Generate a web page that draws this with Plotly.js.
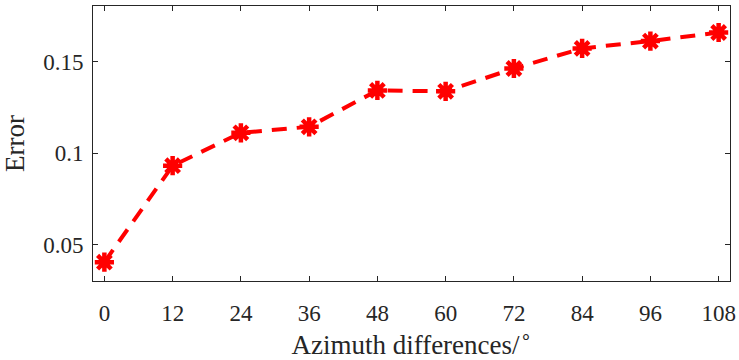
<!DOCTYPE html>
<html>
<head>
<meta charset="utf-8">
<script src="https://cdn.plot.ly/plotly-3.0.1.min.js"></script>
<style>html,body{margin:0;padding:0;background:#fff;}#chart{width:739px;height:360px;}</style>
</head>
<body>
<div id="chart"></div>
<script>
const azimuth = [0, 12, 24, 36, 48, 60, 72, 84, 96, 108];
const errorVals = [0.0403, 0.0931, 0.1111, 0.1144, 0.1343, 0.1338, 0.1463, 0.1573, 0.1613, 0.1660];
const xTicks = [0, 12, 24, 36, 48, 60, 72, 84, 96, 108];
const yTicks = [0.05, 0.1, 0.15];
const yTickText = ['0.05', '0.1', '0.15'];

const FONT = 'Liberation Serif';
const trace = {
  x: azimuth, y: errorVals, type: 'scatter', mode: 'lines+markers',
  line: {color: '#ff0000', width: 4, dash: '15px,10px'},
  marker: {symbol: 'asterisk-open', size: 16, color: '#ff0000', line: {color: '#ff0000', width: 4.5}},
  showlegend: false, cliponaxis: false
};
const axisCommon = {
  showline: true, mirror: 'ticks', linecolor: '#262626', linewidth: 1,
  ticks: 'inside', ticklen: 5, tickcolor: '#262626', tickwidth: 1,
  showgrid: false, zeroline: false,
  tickfont: {family: FONT, size: 23, color: '#262626'}
};
const layout = {
  width: 739, height: 360,
  margin: {l: 93, r: 9, t: 6, b: 79},
  paper_bgcolor: '#fff', plot_bgcolor: '#fff',
  xaxis: Object.assign({}, axisCommon, {
    range: [-2, 110], tickvals: xTicks, ticktext: xTicks.map(String),
    ticklabelstandoff: 11,
    title: {text: 'Azimuth differences/<sup>∘</sup>', standoff: 2,
      font: {family: FONT, size: 27, color: '#262626'}}
  }),
  yaxis: Object.assign({}, axisCommon, {
    range: [0.03, 0.1805], tickvals: yTicks, ticktext: yTickText,
    ticklabelstandoff: 4,
    title: {text: 'Error', standoff: 10,
      font: {family: FONT, size: 27, color: '#262626'}}
  })
};
Plotly.newPlot('chart', [trace], layout, {staticPlot: true});
</script>
</body>
</html>
